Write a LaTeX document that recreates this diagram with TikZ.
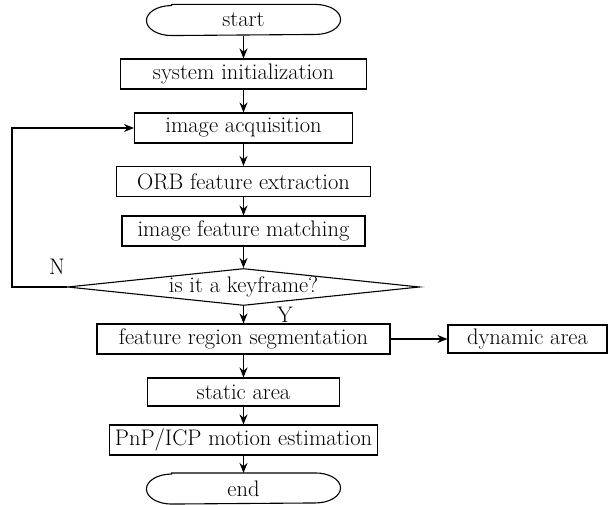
\documentclass[tikz,border=0pt]{standalone}
\usetikzlibrary{arrows.meta,shapes.geometric}
\tikzset{
  stepbox/.style={draw,line width=1.1pt,inner sep=0pt,minimum height=30pt,font=\fontsize{22.5}{27}\selectfont},
  terminal/.style={stepbox,draw=none,minimum width=193pt},
  decision/.style={draw,line width=1.1pt,diamond,aspect=9.5,inner sep=0pt,minimum width=352pt,minimum height=37pt,font=\fontsize{22.5}{27}\selectfont},
  flow/.style={line width=1.1pt,-{Stealth[length=10pt,width=8pt]}},
  tag/.style={font=\fontsize{22.5}{27}\selectfont,inner sep=0pt}
}
\begin{document}
\begin{tikzpicture}[x=1pt,y=-1pt]
\useasboundingbox (0,0) rectangle (616,505);
\node[terminal] (start) at (243.5,20) {start};
\node[stepbox,minimum width=246pt] (init) at (243.5,74) {system initialization};
\node[stepbox,minimum width=218pt] (acq) at (243.5,128) {image acquisition};
\node[stepbox,minimum width=254pt] (orb) at (243.5,181.5) {ORB feature extraction};
\node[stepbox,minimum width=243pt] (match) at (243.5,231) {image feature matching};
\node[decision] (key) at (243.5,287) {is it a keyframe?};
\node[stepbox,minimum width=293pt] (seg) at (243.5,339) {feature region segmentation};
\node[stepbox,minimum width=159pt,minimum height=28pt] (dyn) at (527.5,339) {dynamic area};
\node[stepbox,minimum width=192pt,minimum height=28pt] (stat) at (243.5,392) {static area};
\node[stepbox,minimum width=268pt] (pnp) at (243.5,440) {PnP/ICP motion estimation};
\node[terminal] (end) at (243.5,488.5) {end};
% oval outlines of start and end (y axis points down here)
\foreach\t in {start,end} {
  \draw[line width=1.1pt] ([xshift=25pt]\t.north west) -- ([xshift=-25pt]\t.north east)
    arc[start angle=-90,end angle=90,x radius=25,y radius=15]
    -- ([xshift=25pt]\t.south west)
    arc[start angle=90,end angle=270,x radius=25,y radius=15] -- cycle;
}
% main chain
\draw[flow] (start) -- (init);
\draw[flow] (init) -- (acq);
\draw[flow] (acq) -- (orb);
\draw[flow] (orb) -- (match);
\draw[flow] (match) -- (key);
\draw[flow] (key) -- (seg);
\draw[flow] (seg) -- (stat);
\draw[flow] (stat) -- (pnp);
\draw[flow] (pnp) -- (end);
\draw[flow] (seg) -- (dyn);
% back to acquisition
\draw[flow] (key.west) -- ++(-55,0) |- (acq.west);
\node[tag] (no) at (57,267) {N};
\node[tag] (yes) at (285,315) {Y};
\end{tikzpicture}
\end{document}
